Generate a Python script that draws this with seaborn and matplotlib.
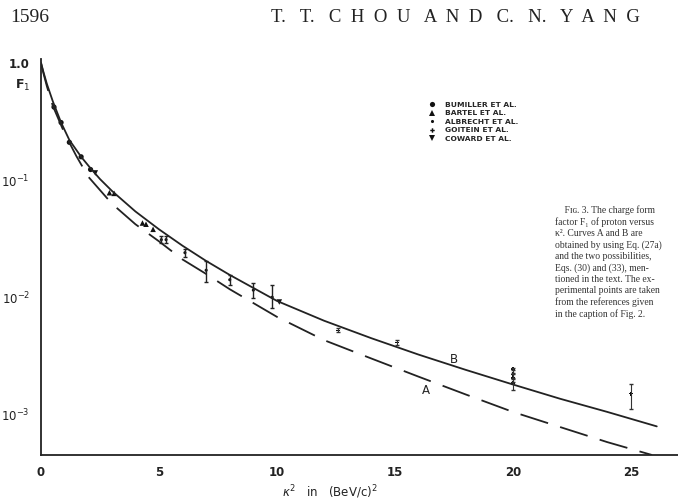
import numpy as np
import pandas as pd
import matplotlib
matplotlib.use("Agg")
import matplotlib.pyplot as plt
from matplotlib.ticker import FixedLocator, LogLocator, NullFormatter, MultipleLocator
import seaborn as sns

# --- Data ---
# curve B (solid) and curve A (dashed): F1 vs kappa^2
curve_b_x = [0, 0.1, 0.25, 0.5, 0.85, 1.2, 1.7, 2.1, 2.5, 3, 4, 5, 6, 7, 8,
             10, 12, 14, 16, 18, 20, 22, 24, 26.1]
curve_b_f = [1.0, 0.84, 0.66, 0.47, 0.31, 0.22, 0.158, 0.126, 0.102, 0.081,
             0.054, 0.038, 0.0275, 0.0204, 0.0155, 0.0093, 0.0063, 0.00447,
             0.00324, 0.0024, 0.0018, 0.00136, 0.00105, 0.00079]
curve_a_x = [0, 0.1, 0.25, 0.5, 1, 1.5, 2, 3, 4, 5, 6, 7, 8, 10, 12, 14, 16,
             18, 20, 22, 24, 25.9]
curve_a_f = [1.0, 0.82, 0.63, 0.43, 0.25, 0.16, 0.107, 0.063, 0.042, 0.030,
             0.021, 0.0158, 0.0117, 0.0068, 0.0043, 0.0030, 0.0021, 0.00148,
             0.00105, 0.00078, 0.00058, 0.00045]

# experimental points
bumiller_x = [0.55, 0.85, 1.2, 1.7, 2.1]
bumiller_f = [0.42, 0.31, 0.21, 0.158, 0.123]
bartel_x = [2.9, 3.1, 4.3, 4.45, 4.75]
bartel_f = [0.078, 0.077, 0.043, 0.042, 0.038]
albrecht_x = [5.1, 5.3, 6.1, 7.0, 8.0, 9.0, 9.8]
albrecht_f = [0.031, 0.031, 0.024, 0.017, 0.0141, 0.0115, 0.0100]
albrecht_lo = [0.029, 0.029, 0.022, 0.0135, 0.0128, 0.0098, 0.0081]
albrecht_hi = [0.033, 0.033, 0.026, 0.0204, 0.0155, 0.0132, 0.0126]
goitein_x = [12.6, 15.1, 20, 20, 20, 20, 25]
goitein_f = [0.0052, 0.0041, 0.00245, 0.0022, 0.00204, 0.00186, 0.0015]
goitein_lo = [0.0050, 0.0039, 0.00225, 0.00205, 0.0019, 0.00162, 0.00112]
goitein_hi = [0.0055, 0.0043, 0.00251, 0.0024, 0.0022, 0.0020, 0.0018]
coward_x = [2.3, 10.1]
coward_f = [0.115, 0.0091]

experiments = ["BUMILLER ET AL.", "BARTEL ET AL.", "ALBRECHT ET AL.",
               "GOITEIN ET AL.", "COWARD ET AL."]

caption_lines = [
    "    Fɪɢ. 3. The charge form",
    "factor F₁ of proton versus",
    "κ². Curves A and B are",
    "obtained by using Eq. (27a)",
    "and the two possibilities,",
    "Eqs. (30) and (33), men-",
    "tioned in the text. The ex-",
    "perimental points are taken",
    "from the references given",
    "in the caption of Fig. 2.",
]

# --- Build frames ---
points = pd.DataFrame({
    "x": bumiller_x + bartel_x + albrecht_x + goitein_x + coward_x,
    "F": bumiller_f + bartel_f + albrecht_f + goitein_f + coward_f,
    "exp": ([experiments[0]] * len(bumiller_x) + [experiments[1]] * len(bartel_x)
            + [experiments[2]] * len(albrecht_x) + [experiments[3]] * len(goitein_x)
            + [experiments[4]] * len(coward_x)),
})
curve_b = pd.DataFrame({"x": curve_b_x, "F": curve_b_f})
curve_a = pd.DataFrame({"x": curve_a_x, "F": curve_a_f})

# --- Plot ---
sns.set_style("white")
plt.rcParams["font.family"] = ["DejaVu Sans"]
plt.rcParams["mathtext.fontset"] = "dejavusans"
serif = ["Liberation Serif", "DejaVu Serif"]

fig = plt.figure(figsize=(6.78, 5.03), dpi=100)
ax = fig.add_axes([0.0605, 0.0954, 0.9395, 0.7873])

sns.lineplot(data=curve_b, x="x", y="F", ax=ax, color="#222222", lw=1.3, sort=False)
sns.lineplot(data=curve_a, x="x", y="F", ax=ax, color="#222222", lw=1.3, sort=False)
ax.lines[-1].set_dashes((16, 7))

ax.errorbar(albrecht_x, albrecht_f,
            yerr=[np.array(albrecht_f) - np.array(albrecht_lo),
                  np.array(albrecht_hi) - np.array(albrecht_f)],
            fmt="none", ecolor="#222222", elinewidth=1.0, capsize=1.2)
ax.errorbar(goitein_x, goitein_f,
            yerr=[np.array(goitein_f) - np.array(goitein_lo),
                  np.array(goitein_hi) - np.array(goitein_f)],
            fmt="none", ecolor="#333333", elinewidth=0.8, capsize=1.2)

markers = dict(zip(experiments, ["o", "^", ".", "P", "v"]))
sizes = dict(zip(experiments, [14, 16, 20, 10, 16]))
sns.scatterplot(data=points, x="x", y="F", style="exp", markers=markers,
                size="exp", sizes=sizes, color="#111111", edgecolor="none",
                ax=ax, legend="full")

ax.set_yscale("log")
ax.set_xlim(0, 27.0)
ax.set_ylim(4.5e-4, 1.08)

for s in ["top", "right"]:
    ax.spines[s].set_visible(False)
for s in ["left", "bottom"]:
    ax.spines[s].set_color("#222222")
    ax.spines[s].set_linewidth(1.3)

ax.xaxis.set_major_locator(FixedLocator([0, 5, 10, 15, 20, 25]))
ax.xaxis.set_minor_locator(MultipleLocator(1))
ax.set_xticklabels(["0", "5", "10", "15", "20", "25"])
ax.yaxis.set_major_locator(FixedLocator([1.0, 1e-1, 1e-2, 1e-3]))
ax.set_yticklabels(["1.0", "$10^{-1}$", "$10^{-2}$", "$10^{-3}$"])
ax.yaxis.set_minor_locator(LogLocator(base=10, subs=np.arange(2, 10)))
ax.yaxis.set_minor_formatter(NullFormatter())
ax.tick_params(axis="both", which="major", direction="in", length=6, width=1,
               colors="#222222", labelsize=8.5, pad=8)
ax.tick_params(axis="both", which="minor", direction="in", length=3, width=0.8,
               colors="#222222")
ax.tick_params(axis="y", which="major", pad=8)
for lab in ax.get_xticklabels() + ax.get_yticklabels():
    lab.set_fontweight("bold")

ax.set_xlabel("")
ax.set_ylabel("")
fig.text(0.487, 0.004, r"$\kappa^2$   in   (BeV/c)$^2$", ha="center", va="bottom",
         fontsize=8.5, color="#222222")
fig.text(0.022, 0.83, r"F$_1$", ha="left", va="center", fontsize=9,
         fontweight="bold", color="#222222")

# curve labels
ax.text(17.5, 2.95e-3, "B", fontsize=8.5, ha="center", va="center", color="#222222")
ax.text(16.3, 1.6e-3, "A", fontsize=8.5, ha="center", va="center", color="#222222")

# legend
handles, labels = ax.get_legend_handles_labels()
leg = ax.legend(handles, labels, loc="upper left", bbox_to_anchor=(0.6, 0.905),
                frameon=False, fontsize=5.4, handletextpad=1.2, labelspacing=0.28,
                handlelength=1.0, borderpad=0.2)
for t in leg.get_texts():
    t.set_fontweight("bold")

# page header
fig.text(0.015, 0.965, "1596", ha="left", va="center", fontsize=14,
         family=serif, color="#222222")
fig.text(0.672, 0.965, "T.   T.   C  H  O  U   A  N  D   C.   N.   Y  A  N  G",
         ha="center", va="center", fontsize=13.5, family=serif, color="#222222")

# caption
fig.text(0.819, 0.592, "\n".join(caption_lines), ha="left", va="top", fontsize=6.9,
         linespacing=1.3, family=serif, color="#333333")

fig.savefig("out.png", dpi=100)
plt.close(fig)
